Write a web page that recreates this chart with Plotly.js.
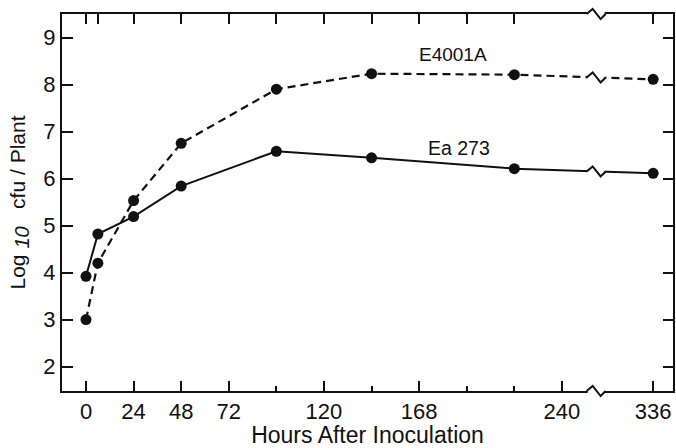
<!DOCTYPE html>
<html>
<head>
<meta charset="utf-8">
<script src="https://cdn.plot.ly/plotly-3.0.1.min.js"></script>
<style>html,body{margin:0;padding:0;background:#fff;}#chart{width:676px;height:448px;}</style>
</head>
<body>
<div id="chart"></div>
<script>
// Hours after inoculation (axis broken between 240 and 336 h)
var hours = [0, 6, 24, 48, 96, 144, 216, 336];
var e4001a = [3.0, 4.2, 5.53, 6.75, 7.9, 8.23, 8.21, 8.11];
var ea273 = [3.92, 4.82, 5.19, 5.84, 6.58, 6.44, 6.21, 6.11];
var seriesNames = ['E4001A', 'Ea 273'];
var majorTicks = [0, 24, 48, 72, 120, 168, 240, 336];
var minorTicks = [96, 144, 192, 216];
var topTicks = [0, 6, 24, 48, 72, 96, 120, 144, 168, 192, 216, 336];
var yTicks = [2, 3, 4, 5, 6, 7, 8, 9];

// broken axis: hours beyond the break are shifted left
var BREAK_AT = 258, SHIFT = 50;
function pos(h) { return h > 260 ? h - SHIFT : h; }
var xs = hours.map(pos);

function interpAt(xv, xsArr, ys) {
  for (var i = 0; i < xsArr.length - 1; i++) {
    if (xv >= xsArr[i] && xv <= xsArr[i + 1]) {
      var f = (xv - xsArr[i]) / (xsArr[i + 1] - xsArr[i]);
      return ys[i] + f * (ys[i + 1] - ys[i]);
    }
  }
  return ys[ys.length - 1];
}

var font = 'Liberation Sans, Arial, sans-serif';
var traces = [
  {x: xs, y: e4001a, name: seriesNames[0], mode: 'lines+markers', type: 'scatter',
   line: {color: '#111', width: 2.2, dash: '8px,5px'}, marker: {color: '#111', size: 11}},
  {x: xs, y: ea273, name: seriesNames[1], mode: 'lines+markers', type: 'scatter',
   line: {color: '#111', width: 2}, marker: {color: '#111', size: 11}},
  // invisible traces to carry the mirrored top / right axes
  {x: [pos(0)], y: [5], xaxis: 'x2', mode: 'markers', marker: {opacity: 0}, hoverinfo: 'skip', showlegend: false},
  {x: [pos(0)], y: [5], yaxis: 'y2', mode: 'markers', marker: {opacity: 0}, hoverinfo: 'skip', showlegend: false}
];

function breakShapes(xref, yref, yanchor) {
  return [
    {type: 'rect', xref: xref, yref: yref, xsizemode: 'pixel', ysizemode: 'pixel',
     xanchor: BREAK_AT, yanchor: yanchor, x0: -10, x1: 7, y0: -3, y1: 3,
     fillcolor: '#fff', line: {width: 0}, layer: 'above'},
    {type: 'path', xref: xref, yref: yref, xsizemode: 'pixel', ysizemode: 'pixel',
     xanchor: BREAK_AT, yanchor: yanchor,
     path: 'M -11,0 L -5,5 L 3,-5 L 8,0',
     line: {color: '#111', width: 2}, layer: 'above'}
  ];
}
var shapes = [];
shapes = shapes.concat(breakShapes('x', 'paper', 1));
shapes = shapes.concat(breakShapes('x', 'paper', 0));
shapes = shapes.concat(breakShapes('x', 'y', interpAt(BREAK_AT, xs, e4001a)));
shapes = shapes.concat(breakShapes('x', 'y', interpAt(BREAK_AT, xs, ea273)));

var xrange = [-12.1, 296.0];
var yrange = [1.48, 9.5];

var layout = {
  width: 676, height: 448,
  margin: {l: 62, r: 3, t: 14, b: 57},
  paper_bgcolor: '#fff', plot_bgcolor: '#fff',
  showlegend: false,
  font: {family: font, color: '#111', size: 22},
  xaxis: {
    range: xrange, showgrid: false, zeroline: false,
    showline: true, linecolor: '#111', linewidth: 2,
    ticks: 'inside', ticklen: 10, tickwidth: 2, tickcolor: '#111',
    tickmode: 'array', tickvals: majorTicks.map(pos), ticktext: majorTicks.map(String),
    tickfont: {size: 22, family: font},
    minor: {tickmode: 'array', tickvals: minorTicks.map(pos), ticks: 'inside', ticklen: 5, tickwidth: 2, tickcolor: '#111'},
    title: {text: 'Hours After Inoculation', font: {size: 23, family: font}, standoff: 5}
  },
  xaxis2: {
    overlaying: 'x', side: 'top', range: xrange, showgrid: false, zeroline: false,
    showline: true, linecolor: '#111', linewidth: 2,
    ticks: 'inside', ticklen: 10, tickwidth: 2, tickcolor: '#111',
    tickmode: 'array', tickvals: topTicks.map(pos), showticklabels: false
  },
  yaxis: {
    range: yrange, showgrid: false, zeroline: false,
    showline: true, linecolor: '#111', linewidth: 2,
    ticks: 'inside', ticklen: 11, tickwidth: 2, tickcolor: '#111',
    tickmode: 'array', tickvals: yTicks, ticktext: yTicks.map(String),
    tickfont: {size: 22, family: font},
    title: {text: 'Log <sub><span style="font-size:20px;font-style:italic">10</span></sub>   cfu / Plant',
            font: {size: 21, family: font}, standoff: 12}
  },
  yaxis2: {
    overlaying: 'y', side: 'right', range: yrange, showgrid: false, zeroline: false,
    showline: true, linecolor: '#111', linewidth: 2,
    ticks: 'inside', ticklen: 10, tickwidth: 2, tickcolor: '#111',
    tickmode: 'array', tickvals: yTicks, showticklabels: false
  },
  annotations: [
    {x: 185, y: 8.64, xref: 'x', yref: 'y', text: seriesNames[0], showarrow: false, font: {size: 19, family: font, color: '#111'}},
    {x: 188, y: 6.66, xref: 'x', yref: 'y', text: seriesNames[1], showarrow: false, font: {size: 19.5, family: font, color: '#111'}}
  ],
  shapes: shapes
};

Plotly.newPlot('chart', traces, layout, {staticPlot: true, displayModeBar: false});
</script>
</body>
</html>
